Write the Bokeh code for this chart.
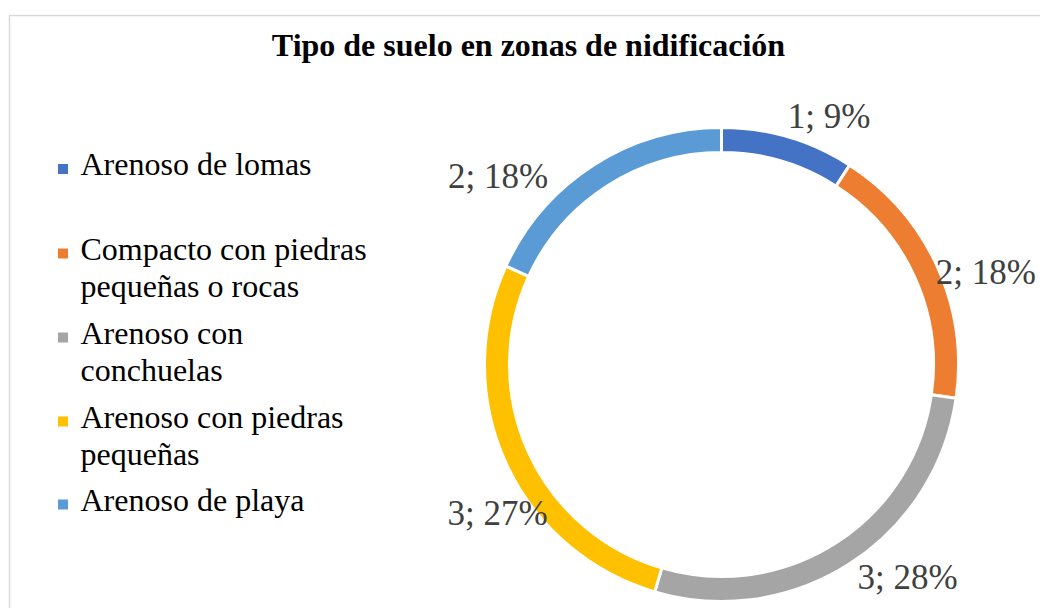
import math
from bokeh.plotting import figure
from bokeh.models import Range1d
from bokeh.core.properties import value
from bokeh.embed import file_html
from bokeh.resources import INLINE

# ---- data ----
categories = ["Arenoso de lomas", "Compacto con piedras pequeñas o rocas",
              "Arenoso con conchuelas", "Arenoso con piedras pequeñas",
              "Arenoso de playa"]
legend_lines = [["Arenoso de lomas"],
                ["Compacto con piedras", "pequeñas o rocas"],
                ["Arenoso con", "conchuelas"],
                ["Arenoso con piedras", "pequeñas"],
                ["Arenoso de playa"]]
counts = [1, 2, 3, 3, 2]
percents = [9, 18, 28, 27, 18]
colors = ["#4472C4", "#ED7D31", "#A5A5A5", "#FFC000", "#5B9BD5"]
title = "Tipo de suelo en zonas de nidificación"

# ---- layout ----
W, H = 1040, 608
cx, cy = 721, 244
r_out, r_in = 237, 212
lab_shift_deg = [7.1, 5.3, -8.4, -9.1, -17.2]
lab_radius = [270, 280, 283, 269, 292]
legend_y = [439.5, 355, 271, 187, 104]   # square centre per item
line_gap = 37
FONT = "Liberation Serif"

p = figure(width=W, height=H, output_backend="svg", toolbar_location=None,
           x_range=Range1d(0, W), y_range=Range1d(0, H), min_border=0,
           background_fill_color="white", border_fill_color="white")
p.axis.visible = False
p.grid.visible = False
p.outline_line_color = None

# chart frame
p.quad(left=9, right=W + 20, bottom=-20, top=H - 15, fill_color=None,
       line_color="#d9d9d9", line_width=1.5)

total = sum(counts)
cum = 0.0
starts, ends, mids = [], [], []
for c in counts:
    a0 = cum / total * 2 * math.pi
    cum += c
    a1 = cum / total * 2 * math.pi
    starts.append(math.pi / 2 - a0)
    ends.append(math.pi / 2 - a1)
    mids.append((a0 + a1) / 2)

p.annular_wedge(x=cx, y=cy, inner_radius=r_in, outer_radius=r_out,
                start_angle=starts, end_angle=ends, direction="clock",
                fill_color=colors, line_color="white", line_width=3)

# data labels
lx, ly, lt = [], [], []
for i in range(len(counts)):
    th = mids[i] + math.radians(lab_shift_deg[i])
    lx.append(cx + lab_radius[i] * math.sin(th))
    ly.append(cy + lab_radius[i] * math.cos(th))
    lt.append(f"{counts[i]}; {percents[i]}%")
p.text(x=lx, y=ly, text=lt, text_font=value(FONT), text_font_size="35px",
       text_color="#404040", text_align="center", text_baseline="middle")

# title
p.text(x=[528], y=[H - 44], text=[title], text_font=value(FONT),
       text_font_size="32px", text_font_style="bold", text_color="#000000",
       text_align="center", text_baseline="middle")

# legend
sq_x, sq_y, tx, ty, tt = [], [], [], [], []
for i, lines in enumerate(legend_lines):
    sq_x.append(62.5)
    sq_y.append(legend_y[i])
    for j, ln in enumerate(lines):
        tx.append(80)
        ty.append(legend_y[i] + 5 - j * line_gap)
        tt.append(ln)
p.rect(x=sq_x, y=sq_y, width=10, height=10, fill_color=colors, line_color=None)
p.text(x=tx, y=ty, text=tt, text_font=value(FONT), text_font_size="32px",
       text_color="#000000", text_align="left", text_baseline="middle")

open("out.html", "w").write(file_html(p, INLINE))
